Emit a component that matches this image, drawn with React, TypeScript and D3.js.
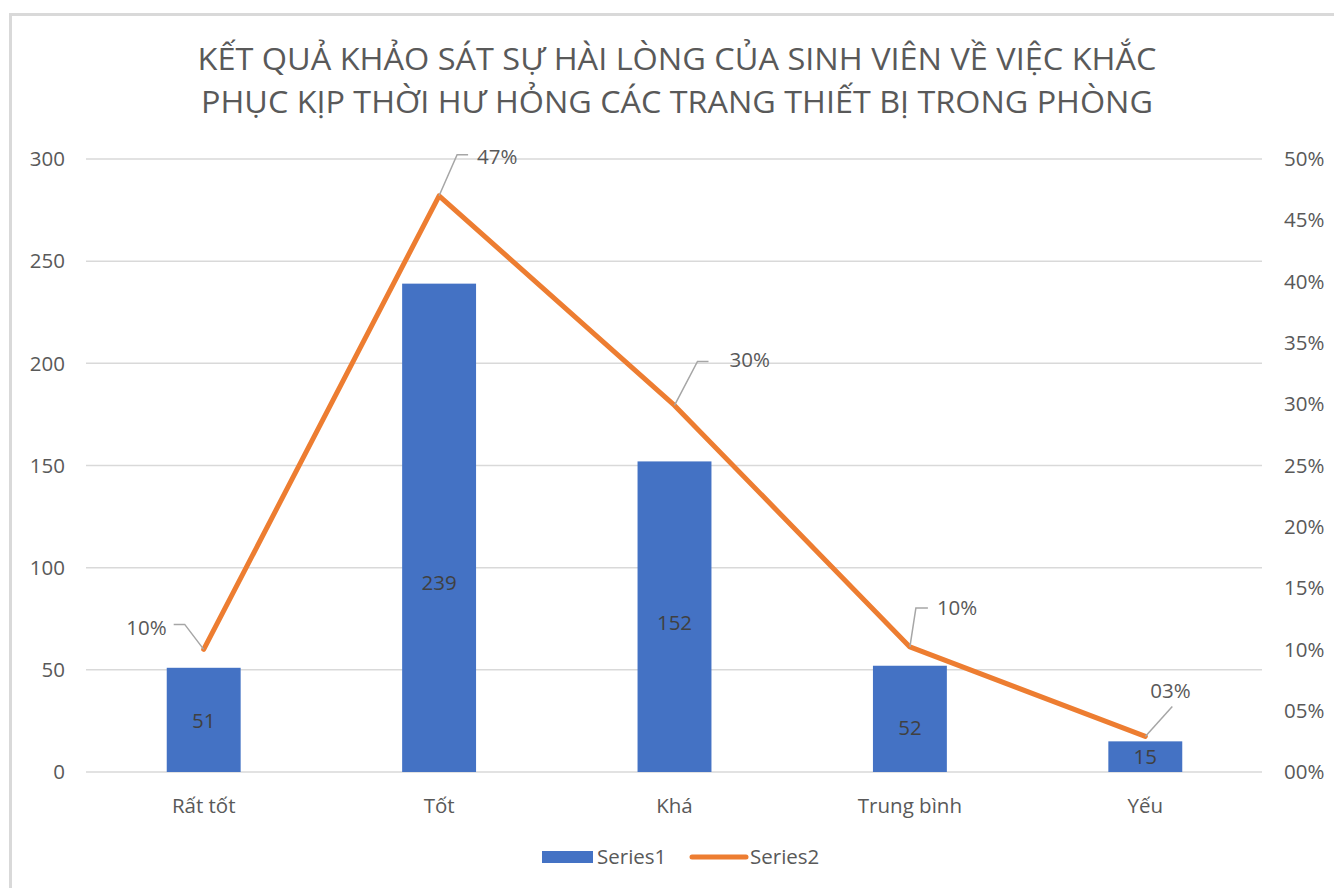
import React from "react";
import * as d3 from "d3";

const categories = ["Rất tốt", "Tốt", "Khá", "Trung bình", "Yếu"];
const series1 = [51, 239, 152, 52, 15];
const series2 = [0.1, 0.47, 0.299, 0.102, 0.029];
const leftTicks = [0, 50, 100, 150, 200, 250, 300];
const rightTicks = [0, 0.05, 0.1, 0.15, 0.2, 0.25, 0.3, 0.35, 0.4, 0.45, 0.5];
const titleLines = [
  "KẾT QUẢ KHẢO SÁT SỰ HÀI LÒNG CỦA SINH VIÊN VỀ VIỆC KHẮC",
  "PHỤC KỊP THỜI HƯ HỎNG CÁC TRANG THIẾT BỊ TRONG PHÒNG",
];
const legendNames = ["Series1", "Series2"];

// label layout (styles, not data)
const barLabelFrac = [0.49, 0.387, 0.48, 0.42, 0.5];
// percent label layout: elbow (ex, ey) relative to point, then horizontal to hx; text at tx, ty; anchor
const pctLayout = [
  { ex: -19, ey: -25, hx: -30, tx: -37, ty: -22, anchor: "end" },
  { ex: 18, ey: -41, hx: 29, tx: 38, ty: -39, anchor: "start" },
  { ex: 23, ey: -44, hx: 34, tx: 55, ty: -46, anchor: "start" },
  { ex: 6, ey: -39, hx: 18, tx: 27, ty: -39, anchor: "start" },
  { ex: 27, ey: -30, hx: 27, tx: 5, ty: -46, anchor: "start" },
];

const FONT = "'Open Sans', 'Noto Sans', sans-serif";
const TXT = "#595959";
const FS = 20.5;

export default function App() {
  const W = 1334, H = 888;
  const x = d3.scaleBand<string>().domain(categories).range([86, 1263]).paddingInner(0.686).paddingOuter(0.343);
  const yL = d3.scaleLinear().domain([0, 300]).range([772, 159]);
  const yR = d3.scaleLinear().domain([0, 0.5]).range([772, 159]);
  const cx = (c: string) => (x(c) as number) + x.bandwidth() / 2;
  const pctFmt = d3.format("03.0%");
  const line = d3.line<number>().x((_, i) => cx(categories[i])).y((d) => yR(d));

  return (
    <svg width={W} height={H} style={{ position: "absolute", left: 0, top: 0, background: "#fff" }} fontFamily={FONT}>
      <rect x={0} y={0} width={W} height={H} fill="#fff" />
      <path d={`M10.5,${H} V14.5 H${W}`} fill="none" stroke="#D9D9D9" strokeWidth={3} />
      {titleLines.map((t, i) => (
        <text key={i} x={677} y={70 + i * 43} textAnchor="middle" fontSize={31} fill={TXT}
          textLength={i === 0 ? 959 : 952} lengthAdjust="spacingAndGlyphs">{t}</text>
      ))}
      {leftTicks.map((t) => (
        <g key={t}>
          <line x1={86} x2={1262} y1={yL(t)} y2={yL(t)} stroke="#D9D9D9" strokeWidth={1.5} />
          <text x={65} y={yL(t)} dy="0.35em" textAnchor="end" fontSize={FS} fill={TXT}>{t}</text>
        </g>
      ))}
      {rightTicks.map((t) => (
        <text key={t} x={1284} y={yR(t)} dy="0.35em" textAnchor="start" fontSize={FS} fill={TXT}>{pctFmt(t)}</text>
      ))}
      {categories.map((c) => (
        <text key={c} x={cx(c)} y={806} dy="0.35em" textAnchor="middle" fontSize={FS} fill={TXT}>{c}</text>
      ))}
      {series1.map((v, i) => (
        <rect key={i} x={x(categories[i])} y={yL(v)} width={x.bandwidth()} height={yL(0) - yL(v)} fill="#4472C4" />
      ))}
      {series1.map((v, i) => (
        <text key={i} x={cx(categories[i])} y={yL(v * barLabelFrac[i])} dy="0.35em" textAnchor="middle" fontSize={FS} fill="#404040">{v}</text>
      ))}
      <path d={line(series2) || ""} fill="none" stroke="#ED7D31" strokeWidth={5} strokeLinejoin="round" strokeLinecap="round" />
      {series2.map((v, i) => {
        const px = cx(categories[i]);
        const py = yR(v);
        const L = pctLayout[i];
        return (
          <g key={i}>
            <path d={`M${px},${py} L${px + L.ex},${py + L.ey} L${px + L.hx},${py + L.ey}`} fill="none" stroke="#A6A6A6" strokeWidth={1.5} />
            <text x={px + L.tx} y={py + L.ty} dy="0.35em" textAnchor={L.anchor as any} fontSize={FS} fill={TXT}>{pctFmt(v)}</text>
          </g>
        );
      })}
      <rect x={542} y={851} width={51} height={12} fill="#4472C4" />
      <text x={597} y={857} dy="0.35em" fontSize={FS} fill={TXT}>{legendNames[0]}</text>
      <line x1={692} x2={746} y1={857} y2={857} stroke="#ED7D31" strokeWidth={5} strokeLinecap="round" />
      <text x={750} y={857} dy="0.35em" fontSize={FS} fill={TXT}>{legendNames[1]}</text>
    </svg>
  );
}
